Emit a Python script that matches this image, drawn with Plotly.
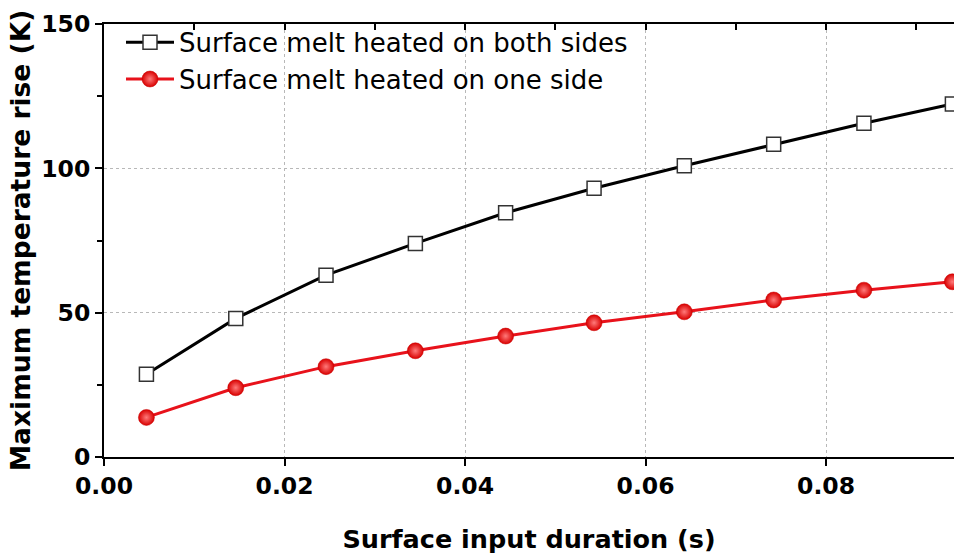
import plotly.graph_objects as go

x_vals = [0.0047, 0.0146, 0.0246, 0.0345, 0.0445, 0.0543, 0.0643, 0.0742, 0.0842, 0.0940]
both_sides = [28.7, 48.0, 63.0, 74.0, 84.6, 93.1, 100.9, 108.3, 115.6, 122.3]
one_side = [13.7, 24.0, 31.3, 36.8, 41.9, 46.5, 50.3, 54.4, 57.8, 60.7]
names = ["Surface melt heated on both sides", "Surface melt heated on one side"]
x_ticks = [0.00, 0.02, 0.04, 0.06, 0.08]
x_tick_text = ["0.00", "0.02", "0.04", "0.06", "0.08"]
y_ticks = [0, 50, 100, 150]

fig = go.Figure()
fig.add_trace(go.Scatter(
    x=x_vals, y=both_sides, name=names[0], mode="lines+markers",
    line=dict(color="black", width=3),
    marker=dict(symbol="square", size=14, color="white", line=dict(color="#333", width=1.5)),
    cliponaxis=False,
))
fig.add_trace(go.Scatter(
    x=x_vals, y=one_side, name=names[1], mode="lines+markers",
    line=dict(color="#e8121b", width=3),
    marker=dict(symbol="circle", size=16, color="#d80000",
                gradient=dict(type="radial", color="#ff7a7a"),
                line=dict(color="#c80000", width=0.5)),
    cliponaxis=False,
))
fig.add_trace(go.Scatter(x=[0], y=[0], xaxis="x2", showlegend=False,
                         mode="markers", marker=dict(opacity=0), hoverinfo="skip"))

font_tick = dict(family="DejaVu Sans", size=23.5, color="black", weight="bold")
font_xtitle = dict(family="DejaVu Sans", size=25.5, color="black", weight="bold")
font_ytitle = dict(family="DejaVu Sans", size=26.5, color="black", weight="bold")

fig.update_layout(
    width=954, height=558,
    margin=dict(l=104, r=0, t=24, b=101),
    paper_bgcolor="white", plot_bgcolor="white",
    showlegend=True,
    legend=dict(x=0.02, y=1.012, xanchor="left", yanchor="top",
                font=dict(family="DejaVu Sans", size=26, color="black"),
                bgcolor="rgba(0,0,0,0)", tracegroupgap=0, itemwidth=48),
    xaxis=dict(
        range=[0, 0.09418], tickvals=x_ticks, ticktext=x_tick_text,
        ticks="outside", ticklen=7, tickwidth=2, tickcolor="black",
        showline=True, linecolor="black", linewidth=2,
        showgrid=True, gridcolor="#b8b8b8", griddash="dot", gridwidth=1,
        zeroline=False, tickfont=font_tick,
        title=dict(text="Surface input duration (s)", font=font_xtitle, standoff=31),
    ),
    xaxis2=dict(
        range=[0, 0.09418], overlaying="x", side="top",
        tickvals=[0.01 * i for i in range(10)],
        ticks="inside", ticklen=6, tickwidth=2, tickcolor="black",
        showticklabels=False, showline=True, linecolor="black", linewidth=2,
        showgrid=False, zeroline=False,
    ),
    yaxis=dict(
        range=[0, 150], tickvals=y_ticks,
        ticks="outside", ticklen=7, tickwidth=2, tickcolor="black",
        minor=dict(tickvals=[25, 75, 125], ticks="outside", ticklen=5, tickwidth=1.5, tickcolor="black"),
        showline=True, linecolor="black", linewidth=2,
        showgrid=True, gridcolor="#b8b8b8", griddash="dot", gridwidth=1,
        zeroline=False, tickfont=font_tick,
        title=dict(text="Maximum temperature rise (K)", font=font_ytitle, standoff=3),
    ),
)

fig.write_html("out.html", config={"displayModeBar": False},
               post_script="document.body.style.margin='0';document.body.style.overflow='hidden';")
